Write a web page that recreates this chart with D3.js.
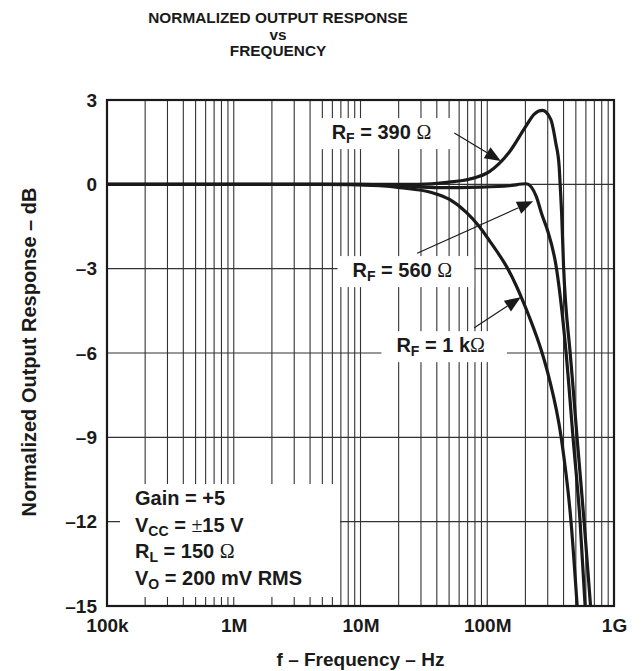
<!DOCTYPE html>
<html><head><meta charset="utf-8">
<script src="https://cdn.jsdelivr.net/npm/d3@7"></script>
<style>
body{margin:0;background:#fff}
text{font-family:"Liberation Sans",Arial,sans-serif;font-weight:bold;fill:#1a1a1a}
.sym{font-family:"Liberation Serif","Times New Roman",serif;font-weight:normal}
</style></head><body>
<svg id="c" width="642" height="671"></svg>
<script>
// ---- data ----
const titleLines = ["NORMALIZED OUTPUT RESPONSE", "vs", "FREQUENCY"];
const xTickValues = [1e5, 1e6, 1e7, 1e8, 1e9];
const xTickLabels = ["100k", "1M", "10M", "100M", "1G"];
const yTickValues = [3, 0, -3, -6, -9, -12, -15];
const xTitle = "f – Frequency – Hz";
const yTitle = "Normalized Output Response – dB";

const freq390 = [1e5, 1e6, 1e7, 2.9e7, 5e7, 7.2e7, 1.04e8, 1.49e8, 2.02e8, 2.34e8, 2.72e8, 3.17e8, 3.47e8, 3.69e8, 3.76e8, 3.86e8, 4.0e8, 4.51e8, 4.71e8, 5.11e8, 5.81e8, 6.53e8];
const db390   = [0, 0, 0, 0, 0.08, 0.18, 0.45, 1.14, 2.07, 2.49, 2.63, 2.31, 1.48, 0.65, 0, -1.0, -2.9, -6.0, -7.0, -9.0, -12.0, -15.0];

const freq560 = [1e5, 1e6, 1e7, 2.03e7, 4.19e7, 8.65e7, 1.49e8, 2.03e8, 2.43e8, 2.71e8, 2.97e8, 3.49e8, 4.19e8, 4.75e8, 5.40e8, 5.92e8];
const db560   = [0, 0, 0, -0.05, -0.12, -0.1, -0.05, 0.02, -0.42, -1.1, -1.6, -2.9, -6.0, -9.0, -12.0, -15.0];

const freq1k = [1e5, 1e6, 5e6, 1.41e7, 2.03e7, 3.69e7, 5.0e7, 6.84e7, 8.65e7, 1.04e8, 1.24e8, 1.41e8, 1.69e8, 1.89e8, 2.14e8, 2.71e8, 3.08e8, 3.83e8, 4.58e8, 5.12e8];
const db1k   = [0, 0, 0, -0.05, -0.12, -0.3, -0.53, -1.0, -1.5, -2.0, -2.5, -2.9, -3.6, -4.1, -4.7, -6.0, -6.9, -9.0, -12.0, -15.0];

// curve annotations (positions in data units: [frequency, dB])
const curveLabels = [
  {value: " = 390 ", sym: "Ω", pos: [5.92e6, 1.61], arrowFrom: [5.5e7, 1.83], arrowTo: [1.28e8, 0.83]},
  {value: " = 560 ", sym: "Ω", pos: [8.65e6, -3.30], arrowFrom: [2.8e7, -2.45], arrowTo: [2.30e8, -0.6]},
  {value: " = 1 k",  sym: "Ω", pos: [1.92e7, -5.97], arrowFrom: [7.9e7, -5.1], arrowTo: [1.84e8, -4.02]}
];
const conditions = [
  [{t: "Gain = +5"}],
  [{t: "V"}, {t: "CC", sub: true}, {t: " = "}, {t: "±", sym: true}, {t: "15 V"}],
  [{t: "R"}, {t: "L", sub: true}, {t: " = 150 "}, {t: "Ω", sym: true}],
  [{t: "V"}, {t: "O", sub: true}, {t: " = 200 mV RMS"}]
];

// ---- layout ----
const svg = d3.select("#c");
const L = 107, R = 614, T = 100, B = 606;
const x = d3.scaleLog().domain([1e5, 1e9]).range([L, R]);
const y = d3.scaleLinear().domain([-15, 3]).range([B, T]);

// title
svg.append("g").attr("transform", "translate(278,0) scale(1.06,1)")
  .selectAll("text").data(titleLines).join("text")
  .attr("x", 0).attr("y", (d, i) => 23.5 + i * 16.5)
  .attr("text-anchor", "middle").style("font-size", "14.5px").text(d => d);

// grid
const gridF = [];
for (let d = 1e5; d < 1e9; d *= 10) for (let k = 1; k <= 9; k++) gridF.push(k * d);
gridF.push(1e9);
const grid = svg.append("g");
grid.selectAll("line.v").data(gridF).join("line").attr("class", "v")
  .attr("x1", d => x(d)).attr("x2", d => x(d)).attr("y1", T).attr("y2", B)
  .attr("stroke", "#333").attr("stroke-width", 1.1);
grid.selectAll("line.h").data(yTickValues).join("line").attr("class", "h")
  .attr("x1", L).attr("x2", R).attr("y1", d => y(d)).attr("y2", d => y(d))
  .attr("stroke", "#333").attr("stroke-width", 1.1);

// axes labels
const fmtY = d => d < 0 ? "–" + (-d) : String(d);
const ax = svg.append("g").attr("transform", `translate(0,${B})`)
  .call(d3.axisBottom(x).tickValues(xTickValues).tickFormat((d, i) => xTickLabels[i]).tickSize(0).tickPadding(13));
const ay = svg.append("g").attr("transform", `translate(${L},0)`)
  .call(d3.axisLeft(y).tickValues(yTickValues).tickFormat(fmtY).tickSize(0).tickPadding(10));
[ax, ay].forEach(g => {
  g.select(".domain").remove();
  g.selectAll("text").attr("fill", "#1a1a1a").style("font-size", "19px")
    .style("font-family", '"Liberation Sans",Arial,sans-serif').style("font-weight", "bold");
});

svg.append("text").attr("x", (L + R) / 2).attr("y", 666).attr("text-anchor", "middle")
  .style("font-size", "19px").text(xTitle);
svg.append("text").attr("transform", "translate(36,352) rotate(-90)").attr("text-anchor", "middle")
  .style("font-size", "20px").text(yTitle);

// annotation labels with white boxes
const annG = svg.append("g");
curveLabels.forEach(c => {
  const g = annG.append("g");
  const box = g.append("rect").attr("fill", "#fff");
  const t = g.append("text").attr("x", x(c.pos[0])).attr("y", y(c.pos[1])).style("font-size", "20px");
  t.append("tspan").text("R");
  t.append("tspan").text("F").style("font-size", "14px").attr("dy", 4);
  t.append("tspan").text(c.value).attr("dy", -4);
  t.append("tspan").attr("class", "sym").text(c.sym);
  const bb = t.node().getBBox();
  box.attr("x", bb.x - 15).attr("y", bb.y - 3).attr("width", bb.width + 37).attr("height", bb.height + 6);
});

// conditions box
const condG = svg.append("g");
const condBox = condG.append("rect").attr("fill", "#fff");
const condT = condG.append("g");
conditions.forEach((line, i) => {
  const t = condT.append("text").attr("x", 135).attr("y", 505 + i * 26.7).style("font-size", "20px");
  line.forEach((p, j) => {
    const s = t.append("tspan").text(p.t);
    if (p.sym) s.attr("class", "sym");
    if (p.sub) s.style("font-size", "14px").attr("dy", 4);
    else if (j > 0 && line[j - 1].sub) s.attr("dy", -4);
  });
});
const cb = condT.node().getBBox();
condBox.attr("x", 120).attr("y", cb.y - 3).attr("width", 220).attr("height", 597 - (cb.y - 3));

// curves
svg.append("clipPath").attr("id", "pc").append("rect")
  .attr("x", L).attr("y", T - 2).attr("width", R - L).attr("height", B - T + 2);
const line = d3.line().x(d => x(d[0])).y(d => y(d[1])).curve(d3.curveMonotoneX);
const series = [
  d3.zip(freq390, db390),
  d3.zip(freq560, db560),
  d3.zip(freq1k, db1k)
];
svg.append("g").attr("clip-path", "url(#pc)").selectAll("path").data(series).join("path")
  .attr("d", line).attr("fill", "none").attr("stroke", "#1a1a1a").attr("stroke-width", 3.2)
  .attr("stroke-linejoin", "round");

// arrows
const arrG = svg.append("g");
curveLabels.forEach(c => {
  const x1 = x(c.arrowFrom[0]), y1 = y(c.arrowFrom[1]);
  const x2 = x(c.arrowTo[0]), y2 = y(c.arrowTo[1]);
  const ang = Math.atan2(y2 - y1, x2 - x1);
  const len = 16, hw = 6.5;
  const bx = x2 - len * Math.cos(ang), by = y2 - len * Math.sin(ang);
  arrG.append("line").attr("x1", x1).attr("y1", y1).attr("x2", bx).attr("y2", by)
    .attr("stroke", "#1a1a1a").attr("stroke-width", 1.2);
  arrG.append("path").attr("d", d3.line()([
    [x2, y2],
    [bx + hw * Math.sin(ang), by - hw * Math.cos(ang)],
    [bx - hw * Math.sin(ang), by + hw * Math.cos(ang)]
  ]) + "Z").attr("fill", "#1a1a1a");
});

// frame
svg.append("rect").attr("x", L).attr("y", T).attr("width", R - L).attr("height", B - T)
  .attr("fill", "none").attr("stroke", "#1a1a1a").attr("stroke-width", 2.2);
</script>
</body></html>
